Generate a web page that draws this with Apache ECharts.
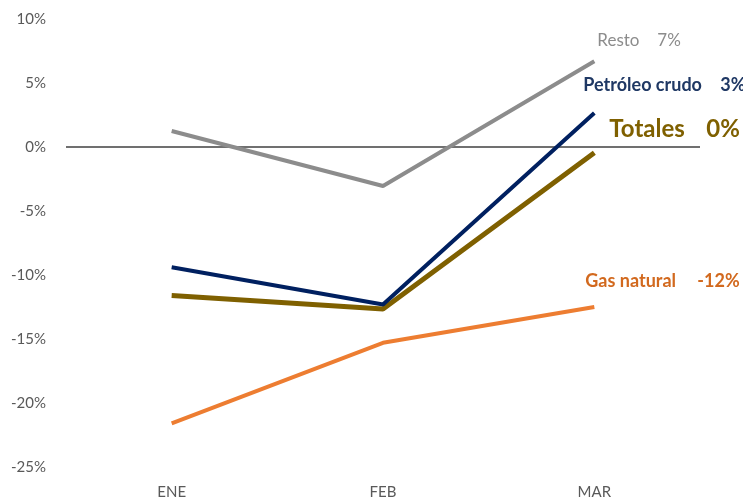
<!DOCTYPE html>
<html><head><meta charset="utf-8">
<script src="https://cdn.jsdelivr.net/npm/echarts@6/dist/echarts.min.js"></script>
<style>html,body{margin:0;padding:0;background:#fff}#c{width:743px;height:504px}</style>
</head><body><div id="c"></div>
<script>
const categories = ['ENE', 'FEB', 'MAR'];
const resto = [1.25, -3.05, 6.7];
const petroleo = [-9.4, -12.3, 2.65];
const totales = [-11.6, -12.65, -0.45];
const gas = [-21.6, -15.3, -12.5];
const yTicks = [-25, -20, -15, -10, -5, 0, 5, 10];
const endLabels = {
  resto: ['Resto', '7%'],
  petroleo: ['Petróleo crudo', '3%'],
  totales: ['Totales', '0%'],
  gas: ['Gas natural', '-12%']
};
const FONT = 'Lato';

function mkSeries(name, arr, lbl, cfg, color, width) {
  return {
    name: name, type: 'line', data: arr,
    symbol: 'none',
    lineStyle: { color: color, width: width },
    itemStyle: { color: color },
    emphasis: { disabled: true },
    endLabel: {
      show: true,
      distance: 0,
      offset: cfg.offset,
      formatter: '{n|' + lbl[0] + '}{v|' + lbl[1] + '}',
      rich: {
        n: { fontFamily: FONT, fontSize: cfg.size, fontWeight: cfg.weight, color: cfg.color, width: cfg.nw },
        v: { fontFamily: FONT, fontSize: cfg.size, fontWeight: cfg.weight, color: cfg.color }
      }
    }
  };
}

const chart = echarts.init(document.getElementById('c'));
const splitColors = yTicks.map(t => t === 0 ? '#404040' : 'rgba(0,0,0,0)');
chart.setOption({
  animation: false,
  grid: { left: 66, right: 43, top: 19, bottom: 37 },
  xAxis: {
    type: 'category',
    data: categories,
    boundaryGap: true,
    axisLine: { show: false },
    axisTick: { show: false },
    axisLabel: { color: '#595959', fontFamily: FONT, fontSize: 15, margin: 18 }
  },
  yAxis: {
    type: 'value',
    min: -25, max: 10, interval: 5,
    axisLine: { show: false },
    axisTick: { show: false },
    axisLabel: { color: '#595959', fontFamily: FONT, fontSize: 15, margin: 20, formatter: '{value}%' },
    splitLine: { show: true, lineStyle: { color: splitColors, width: 1.5 } }
  },
  series: [
    mkSeries('Gas natural', gas, endLabels.gas, { offset: [-9, -26], size: 18, weight: 'bold', color: '#d2691e', nw: 112 }, '#ed7d31', 4),
    mkSeries('Resto', resto, endLabels.resto, { offset: [3, -21], size: 17, weight: 'normal', color: '#8c8c8c', nw: 60 }, '#8c8c8c', 4),
    mkSeries('Totales', totales, endLabels.totales, { offset: [15, -23], size: 24, weight: 'bold', color: '#7f6000', nw: 97 }, '#7f6000', 5),
    mkSeries('Petróleo crudo', petroleo, endLabels.petroleo, { offset: [-11, -28], size: 18, weight: 'bold', color: '#1f3864', nw: 137 }, '#002060', 4)
  ]
});
</script></body></html>
